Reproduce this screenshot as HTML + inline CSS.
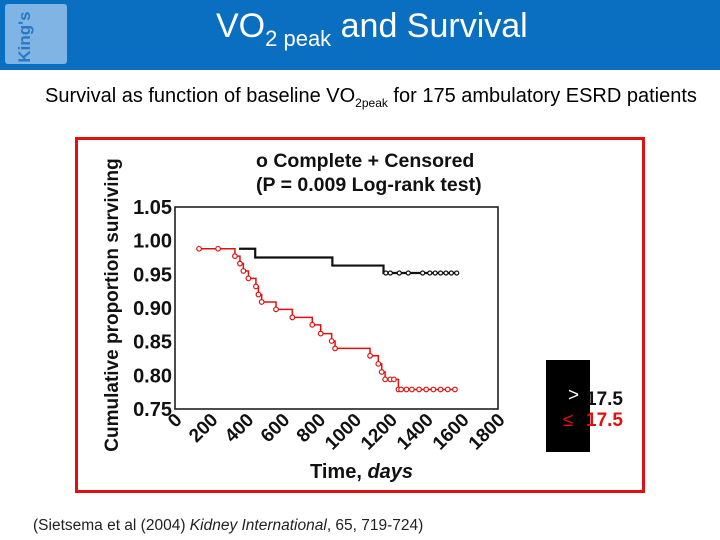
<!DOCTYPE html>
<html><head><meta charset="utf-8"><style>
body{margin:0;width:720px;height:540px;background:#fff;position:relative;overflow:hidden;font-family:"Liberation Sans",sans-serif}
.hdr{position:absolute;left:0;top:0;width:720px;height:70px;background:#0b6fc1}
.logo{position:absolute;left:5px;top:4px;width:62px;height:60px;background:#7fb4e4;border-radius:3px}
.logo span{position:absolute;left:20px;top:33px;transform:translate(-50%,-50%) rotate(-90deg);color:#2a79c4;font-weight:bold;font-size:17px;white-space:nowrap}
.title{position:absolute;left:216px;top:7px;color:#fff;font-size:34px;white-space:nowrap}
.title sub{font-size:22px;vertical-align:-9px}
.sub{position:absolute;left:45px;top:85px;font-size:20px;white-space:nowrap}
.sub sub{font-size:12px}
.cite{position:absolute;left:33px;top:517px;font-size:15.5px;color:#222}
</style></head><body>
<div class="hdr">
<div class="logo"><span>King's</span></div>
<div class="title">VO<sub>2 peak</sub> and Survival</div>
</div>
<div class="sub">Survival as function of baseline VO<sub>2peak</sub> for 175 ambulatory ESRD patients</div>
<svg id="chart" width="720" height="540" style="position:absolute;left:0;top:0">
<rect x="76.5" y="138.5" width="567" height="353" fill="#fff" stroke="#e01010" stroke-width="3"/>
</svg>
<div class="cite">(Sietsema et al (2004) <i>Kidney International</i>, 65, 719-724)</div>
<script>
const yTicks=[0.75,0.80,0.85,0.90,0.95,1.00,1.05];
const xTicks=[0,200,400,600,800,1000,1200,1400,1600,1800];
const blackDays=[357,447,877,1162,1575];
const blackVals=[0.988,0.975,0.963,0.952,0.952];
const blackCensor=[1175,1200,1250,1300,1380,1420,1450,1480,1510,1540,1570];
const redDays=[134,334,362,381,409,451,465,483,563,654,765,812,873,892,1087,1133,1152,1171,1245,1570];
const redVals=[0.988,0.977,0.966,0.955,0.944,0.932,0.920,0.909,0.898,0.886,0.875,0.862,0.851,0.840,0.829,0.817,0.805,0.794,0.779,0.779];
const redCensor=[134,240,1200,1220,1260,1290,1320,1360,1400,1440,1480,1520,1560];
const NS='http://www.w3.org/2000/svg';
const svg=document.getElementById('chart');
const L=175,R=498,T=207,B=409;
const xs=d=>L+d/1800*(R-L);
const ys=v=>B-(v-0.75)/0.30*(B-T);
function mk(t,a,p){const e=document.createElementNS(NS,t);for(const k in a)e.setAttribute(k,a[k]);(p||svg).appendChild(e);return e;}
let e=mk('rect',{x:L,y:T,width:R-L,height:B-T,fill:'none',stroke:'#111','stroke-width':1.5});


yTicks.forEach(v=>{
 const t=mk('text',{x:L-3,y:ys(v)+7,'text-anchor':'end','font-size':20,'font-weight':'bold','font-family':'Liberation Sans',fill:'#111'});
 t.textContent=v.toFixed(2);
 
 
});
xTicks.forEach(d=>{
 const x=xs(d);
 const t=mk('text',{x:0,y:0,'text-anchor':'end','font-size':19,'font-weight':'bold','font-family':'Liberation Sans',fill:'#111',transform:`translate(${x+8},${B+12}) rotate(-45)`});
 t.textContent=d;
 
 
});
function stepPath(ds,vs){let p=`M${xs(ds[0])},${ys(vs[0])}`;for(let i=1;i<ds.length;i++){p+=`H${xs(ds[i])}V${ys(vs[i])}`;}return p;}
const sB=mk('path',{d:stepPath(blackDays,blackVals),fill:'none',stroke:'#111','stroke-width':2.2});


const sR=mk('path',{d:stepPath(redDays,redVals),fill:'none',stroke:'#e01010','stroke-width':1.5});


function valAt(ds,vs,d){let v=vs[0];for(let i=0;i<ds.length;i++)if(ds[i]<=d)v=vs[i];return v;}
redDays.slice(1,-1).concat(redCensor).forEach(d=>{
 const c=mk('circle',{cx:xs(d),cy:ys(valAt(redDays,redVals,d)),r:2.3,fill:'#fff',stroke:'#e01010','stroke-width':1.2});
 
 
});
blackCensor.forEach(d=>{
 const c=mk('circle',{cx:xs(d),cy:ys(valAt(blackDays,blackVals,d)),r:2,fill:'#fff',stroke:'#111','stroke-width':1.2});
 
 
});
function txt(s,a,name){const t=mk('text',Object.assign({'font-family':'Liberation Sans','font-weight':'bold',fill:'#111'},a));t.textContent=s;return t;}
txt('o  Complete + Censored',{x:256,y:167,'font-size':19.5},'legend-title');
txt('(P = 0.009 Log-rank test)',{x:256,y:191,'font-size':19.5},'p-value-label');
txt('Cumulative proportion surviving',{x:0,y:0,'font-size':19,'text-anchor':'middle',transform:'translate(118,305) rotate(-90)'},'y-axis-title');
const xt=txt('Time, ',{x:310,y:478,'font-size':20},'x-axis-title');
const ts=mk('tspan',{'font-style':'italic'},xt);ts.textContent='days';
const bx=mk('rect',{x:546,y:360,width:44,height:92,fill:'#000'});


txt('17.5',{x:586,y:405,'font-size':19},'legend-high');
txt('17.5',{x:586,y:426,'font-size':19,fill:'#e01010'},'legend-low');
txt('>',{x:568,y:401,'font-size':19,fill:'#fff','font-weight':'normal'},'legend-gt');
txt('≤',{x:563,y:426,'font-size':19,fill:'#e01010','font-weight':'normal'},'legend-le');
</script>
</body></html>
